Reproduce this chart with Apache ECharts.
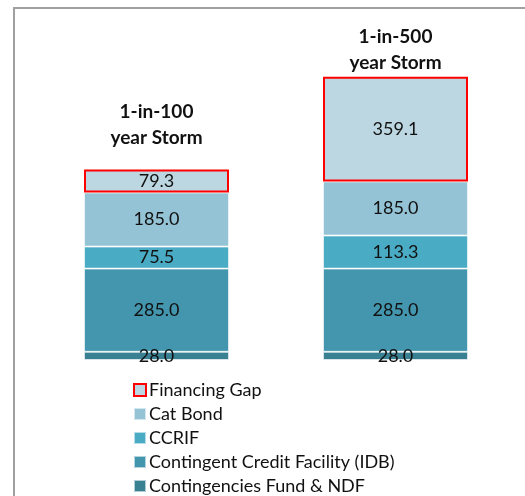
<!DOCTYPE html>
<html>
<head>
<meta charset="utf-8">
<script src="https://cdn.jsdelivr.net/npm/echarts@6/dist/echarts.min.js"></script>
<style>
  html, body { margin: 0; padding: 0; background: #fff; }
  #chart { width: 525px; height: 496px; }
</style>
</head>
<body>
<div id="chart"></div>
<script>
const categories = ["1-in-100\nyear Storm", "1-in-500\nyear Storm"];
const contingenciesFund = [28.0, 28.0];
const creditFacility = [285.0, 285.0];
const ccrif = [75.5, 113.3];
const catBond = [185.0, 185.0];
const financingGap = [79.3, 359.1];

const legendOrder = [
  "Financing Gap",
  "Cat Bond",
  "CCRIF",
  "Contingent Credit Facility (IDB)",
  "Contingencies Fund & NDF"
];

const font = "Lato, 'Open Sans', sans-serif";

function segment(name, data, color, extra) {
  return Object.assign({
    name,
    type: "bar",
    stack: "total",
    barWidth: 145,
    data,
    itemStyle: { color, borderColor: "rgba(255,255,255,0.6)", borderWidth: 1 },
    label: {
      show: true,
      position: "inside",
      color: "#111",
      fontFamily: font,
      fontSize: 18,
      formatter: (p) => Number(p.value).toFixed(1)
    }
  }, extra || {});
}

const chart = echarts.init(document.getElementById("chart"));
chart.setOption({
  animation: false,
  grid: { left: 37, right: 10, top: 9.6, bottom: 136 },
  xAxis: {
    type: "category",
    data: categories,
    show: false
  },
  yAxis: { type: "value", min: 0, max: 1200, show: false },
  legend: {
    orient: "vertical",
    left: 133,
    top: 381,
    height: 140,
    padding: 0,
    data: legendOrder,
    itemWidth: 12,
    itemHeight: 12,
    itemGap: 6,
    icon: "rect",
    textStyle: { fontFamily: font, fontSize: 18, color: "#111", lineHeight: 18, padding: [0, 0, 0, -2] }
  },
  graphic: [{
    type: "polyline",
    shape: { points: [[14, 496], [14, 8], [525, 8]] },
    style: { stroke: "#a0a0a0", lineWidth: 2, fill: null }
  }],
  series: [
    segment("Contingencies Fund & NDF", contingenciesFund, "#3a8093"),
    segment("Contingent Credit Facility (IDB)", creditFacility, "#4396ad"),
    segment("CCRIF", ccrif, "#4aabc5"),
    segment("Cat Bond", catBond, "#93c3d4"),
    segment("Financing Gap", financingGap, "#bcd7e2", {
      itemStyle: { color: "#bcd7e2", borderColor: "#ff0000", borderWidth: 2 }
    }),
    {
      name: "category",
      type: "bar",
      stack: "total",
      barWidth: 145,
      data: categories.map((c, i) => ({
        value: 0,
        label: { distance: i === 0 ? 19 : 1 }
      })),
      itemStyle: { color: "transparent" },
      label: {
        show: true,
        position: "top",
        fontFamily: font,
        fontSize: 19,
        fontWeight: "bold",
        lineHeight: 26,
        color: "#111",
        align: "center",
        formatter: (p) => categories[p.dataIndex]
      }
    }
  ]
});
</script>
</body>
</html>
